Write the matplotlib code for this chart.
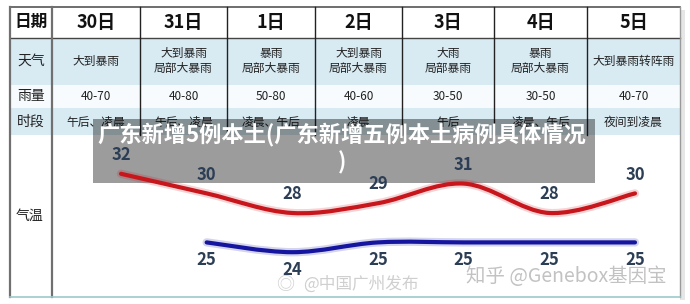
import numpy as np
import matplotlib
matplotlib.use("Agg")
import matplotlib.pyplot as plt
from matplotlib.path import Path
from matplotlib.patches import PathPatch, Rectangle

plt.rcParams['font.family'] = ['Noto Sans CJK SC', 'DejaVu Sans']

# ---------------- data ----------------
row_labels = ['日期', '天气', '雨量', '时段', '气温']
dates = ['30日', '31日', '1日', '2日', '3日', '4日', '5日']
weather = ['大到暴雨', '大到暴雨\n局部大暴雨', '暴雨\n局部大暴雨', '大到暴雨\n局部大暴雨',
           '大雨\n局部暴雨', '暴雨\n局部大暴雨', '大到暴雨转阵雨']
rain = ['40-70', '40-80', '50-80', '40-60', '30-50', '30-50', '40-70']
period = ['午后、凌晨', '午后、凌晨', '凌晨、午后', '凌晨', '午后', '凌晨、午后', '夜间到凌晨']
high_temp = [32, 30, 28, 29, 31, 28, 30]
low_temp = [np.nan, 25, 24, 25, 25, 25, 25]
title = '广东新增5例本土(广东新增五例本土病例具体情况\n)'
watermark1 = '知乎 @Genebox基因宝'
watermark2 = '@中国广州发布'

# ---------------- layout (pixels) ----------------
W, H = 690, 304
fig = plt.figure(figsize=(W / 100, H / 100), dpi=100)
ax = fig.add_axes([0, 0, 1, 1])
ax.set_xlim(0, W)
ax.set_ylim(H, 0)
ax.axis('off')

left, right, top, bottom = 10, 680, 7, 297
col_edges = [52, 140, 227, 315, 402, 494, 587, 680]
row_edges = [7, 38, 85, 108, 135]
light_blue = '#d8eaf2'

# shadow on right
ax.add_patch(Rectangle((right, top + 3), 5, bottom - top, color='#e6e6e6', lw=0, zorder=0))
# row backgrounds
ax.add_patch(Rectangle((left, row_edges[1]), right - left, row_edges[2] - row_edges[1],
                       color=light_blue, lw=0, zorder=1))
ax.add_patch(Rectangle((left, row_edges[3]), right - left, row_edges[4] - row_edges[3],
                       color=light_blue, lw=0, zorder=1))
ax.add_patch(Rectangle((left, row_edges[2]), right - left, row_edges[3] - row_edges[2],
                       color='#f7fbfd', lw=0, zorder=1))

# borders
ax.plot([left, right], [top, top], color='#555555', lw=1.2, zorder=3)
ax.plot([left, right], [row_edges[1], row_edges[1]], color='#444444', lw=1.0, zorder=3)
ax.plot([left, left], [top, bottom], color='#707070', lw=1.6, zorder=3)
ax.plot([right, right], [top, bottom], color='#9a9a9a', lw=1.0, zorder=3)
ax.plot([col_edges[0], col_edges[0]], [top, bottom], color='#707070', lw=1.6, zorder=3)
ax.plot([left, right], [bottom, bottom], color='#9cc9c9', lw=1.2, zorder=3)
for x in col_edges[1:-1]:
    ax.plot([x, x], [top, row_edges[4]], color='#222222', lw=1.0, zorder=3)

# row labels
lab_x = (left + col_edges[0]) / 2
ax.text(lab_x, 22, row_labels[0], ha='center', va='center', fontsize=12, fontweight='bold', color='#111111', zorder=4)
ax.text(lab_x, 61, row_labels[1], ha='center', va='center', fontsize=10, color='#222222', zorder=4)
ax.text(lab_x, 96, row_labels[2], ha='center', va='center', fontsize=10, color='#222222', zorder=4)
ax.text(lab_x, 122, row_labels[3], ha='center', va='center', fontsize=10, color='#222222', zorder=4)
ax.text(lab_x - 1, 216, row_labels[4], ha='center', va='center', fontsize=10, color='#222222', zorder=4)

# table cells
for i in range(len(dates)):
    cx = (col_edges[i] + col_edges[i + 1]) / 2
    ax.text(cx, 22, dates[i], ha='center', va='center', fontsize=13, fontweight='bold', color='#111111', zorder=4)
    ax.text(cx, 61, weather[i], ha='center', va='center', fontsize=8.5, color='#222222',
            linespacing=1.15, zorder=4)
    ax.text(cx, 96, rain[i], ha='center', va='center', fontsize=8.5, color='#222222', zorder=4)
    ax.text(cx, 122, period[i], ha='center', va='center', fontsize=8.5, color='#222222', zorder=4)

# ---------------- temperature axes ----------------
x_first, x_last = 121, 635
t_ref, y_ref, px_per_deg = 28, 213, 9.8
t_lo, t_hi = 20, 35
y_lo = y_ref + (t_ref - t_lo) * px_per_deg
y_hi = y_ref - (t_hi - t_ref) * px_per_deg
tax = fig.add_axes([x_first / W, (H - y_lo) / H, (x_last - x_first) / W, (y_lo - y_hi) / H])
tax.set_xlim(0, len(dates) - 1)
tax.set_ylim(t_lo, t_hi)
tax.axis('off')
tax.patch.set_alpha(0)


def smooth_path(xs, ys):
    pts = np.column_stack([xs, ys])
    verts = [pts[0]]
    codes = [Path.MOVETO]
    n = len(pts)
    for i in range(n - 1):
        p0 = pts[max(i - 1, 0)]
        p1 = pts[i]
        p2 = pts[i + 1]
        p3 = pts[min(i + 2, n - 1)]
        c1 = p1 + (p2 - p0) / 6.0
        c2 = p2 - (p3 - p1) / 6.0
        verts += [c1, c2, p2]
        codes += [Path.CURVE4] * 3
    return Path(verts, codes)


def draw_series(values, color, label_offset):
    vals = np.array(values, dtype=float)
    idx = np.arange(len(vals))
    m = ~np.isnan(vals)
    path = smooth_path(idx[m], vals[m])
    tax.add_patch(PathPatch(path, facecolor='none', edgecolor=color, lw=6, alpha=0.18,
                            capstyle='round', clip_on=False))
    tax.add_patch(PathPatch(path, facecolor='none', edgecolor=color, lw=3.0,
                            capstyle='round', clip_on=False))
    for i, v in zip(idx[m], vals[m]):
        tax.annotate(f'{int(v)}', (i, v), xytext=(0, label_offset), textcoords='offset points',
                     ha='center', va='center', fontsize=12, fontweight='bold',
                     color='#2c3e55', annotation_clip=False)


draw_series(high_temp, '#c8161d', 13.5)
draw_series(low_temp, '#1515a0', -13)

# ---------------- watermarks ----------------
ax.text(566, 277, watermark1, ha='center', va='center', fontsize=14, color='#c2c2c2', zorder=5)
ax.text(361, 284, watermark2, ha='center', va='center', fontsize=12, color='#cfcfcf', zorder=5)
ax.text(285, 285, '◎', ha='center', va='center', fontsize=13, color='#cfcfcf', zorder=5)

# ---------------- banner ----------------
ax.add_patch(Rectangle((93, 119), 595 - 93, 183 - 119, color='black', alpha=0.39, lw=0, zorder=10))
ax.text(342, 148, title, ha='center', va='center', fontsize=16, fontweight='bold', color='white',
        linespacing=1.25, zorder=11)

fig.savefig('out.png', dpi=100)
